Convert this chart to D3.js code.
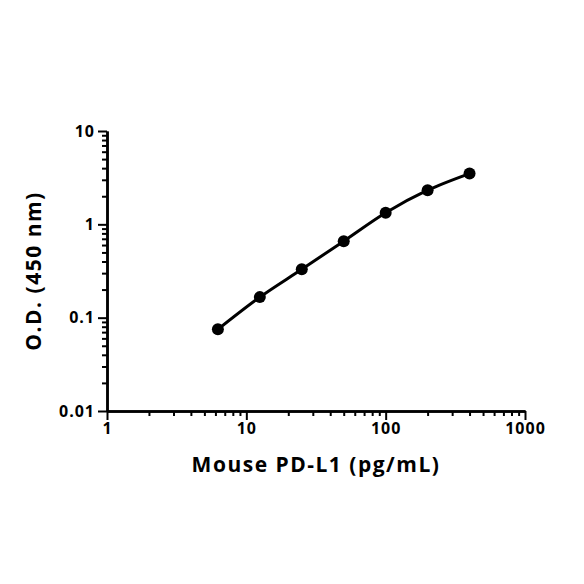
<!DOCTYPE html><html><head><meta charset="utf-8">
<script src="https://cdn.jsdelivr.net/npm/d3@7"></script>
<style>body{margin:0;background:#fff}text{font-family:"Open Sans",sans-serif;font-weight:bold}</style></head><body>
<svg id="c" width="584" height="584"></svg>
<script>
const concentrations=[6.25,12.5,25,50,100,200,400];
const odValues=[0.075,0.166,0.33,0.66,1.33,2.32,3.5];
const xTicks=[1,10,100,1000];
const yTicks=[0.01,0.1,1,10];
const xTitle="Mouse PD-L1 (pg/mL)", yTitle="O.D. (450 nm)";
const svg=d3.select("#c");
const x=d3.scaleLog().domain([1,1000]).range([107,525]);
const y=d3.scaleLog().domain([0.01,10]).range([411,131]);
function minors(lo,hi){const r=[];for(let d=lo;d<hi;d*=10)for(let k=2;k<10;k++)r.push(d*k);return r;}
const st=g=>{g.select(".domain").attr("stroke-width",2.5);g.selectAll(".tick line").attr("stroke-width",2);g.selectAll("text").style("font-size","16px").style("letter-spacing","1px").attr("fill","#000");};
svg.append("g").attr("transform","translate(0,411)").call(d3.axisBottom(x).tickValues(minors(1,1000)).tickSize(5).tickFormat("").tickSizeOuter(0)).call(st);
svg.append("g").attr("transform","translate(0,411)").call(d3.axisBottom(x).tickValues(xTicks).tickSize(9).tickFormat(d3.format("d")).tickSizeOuter(0)).call(st);
svg.append("g").attr("transform","translate(107,0)").call(d3.axisLeft(y).tickValues(minors(0.01,10)).tickSize(5).tickFormat("").tickSizeOuter(0)).call(st);
svg.append("g").attr("transform","translate(107,0)").call(d3.axisLeft(y).tickValues(yTicks).tickSize(9).tickFormat(d=>String(d)).tickSizeOuter(0)).call(st);
const data=concentrations.map((c,i)=>[c,odValues[i]]);
svg.append("path").datum(data).attr("fill","none").attr("stroke","#000").attr("stroke-width",3)
 .attr("d",d3.line().x(d=>x(d[0])).y(d=>y(d[1])).curve(d3.curveMonotoneX));
svg.selectAll("circle").data(data).join("circle").attr("cx",d=>x(d[0])).attr("cy",d=>y(d[1])).attr("r",6).attr("fill","#000");
svg.append("text").attr("x",316).attr("y",472).attr("text-anchor","middle").style("font-size","21px").style("letter-spacing","1.5px").text(xTitle);
svg.append("text").attr("transform","translate(41,271) rotate(-90)").attr("text-anchor","middle").style("font-size","21px").style("letter-spacing","1.5px").text(yTitle);
</script></body></html>
